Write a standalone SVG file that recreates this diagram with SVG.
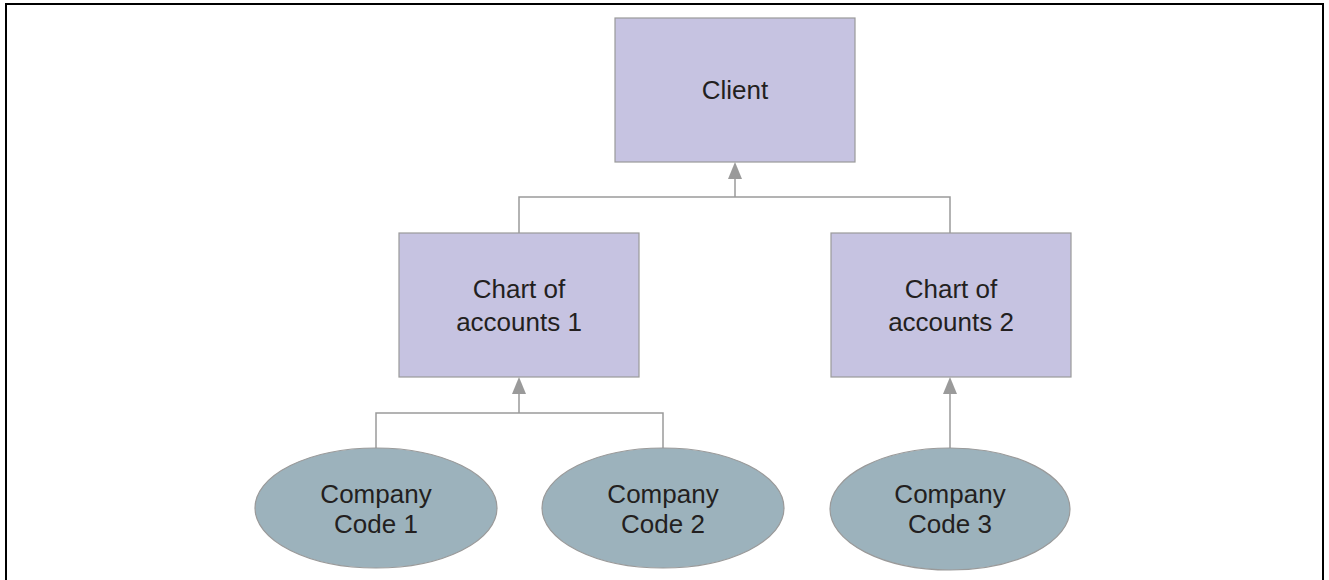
<svg xmlns="http://www.w3.org/2000/svg" width="1329" height="580" viewBox="0 0 1329 580">
<style>
.box{fill:#c6c3e1;stroke:#9a9a9a;stroke-width:1.2}
.oval{fill:#9cb2bc;stroke:#9a9a9a;stroke-width:1.2}
.lbl{font-family:"Liberation Sans",Arial,sans-serif;font-size:26px;fill:#231f20;text-anchor:middle}
.conn{fill:none;stroke:#9a9a9a;stroke-width:1.5}
.head{fill:#9a9a9a}
</style>
<rect width="1329" height="580" fill="#fff"/>
<path d="M6,580 V4 H1323 V580" fill="none" stroke="#000" stroke-width="2"/>
<g id="connectors">
<path class="conn" d="M519,233 V197 H950 V233"/>
<path class="conn" d="M735,197 V175"/>
<path class="conn" d="M376,448 V413 H663 V448"/>
<path class="conn" d="M519,413 V390"/>
<path class="conn" d="M950,448 V390"/>
<path class="head" d="M728,179 L735,162 L742,179 Z"/>
<path class="head" d="M512,394 L519,377 L526,394 Z"/>
<path class="head" d="M943,394 L950,377 L957,394 Z"/>
</g>
<g id="client">
<rect class="box" x="615" y="18" width="240" height="144"/>
<text class="lbl" x="735" y="99">Client</text>
</g>
<g id="coa1">
<rect class="box" x="399" y="233" width="240" height="144"/>
<text class="lbl" x="519" y="298">Chart of</text>
<text class="lbl" x="519" y="331">accounts 1</text>
</g>
<g id="coa2">
<rect class="box" x="831" y="233" width="240" height="144"/>
<text class="lbl" x="951" y="298">Chart of</text>
<text class="lbl" x="951" y="331">accounts 2</text>
</g>
<g id="cc1">
<ellipse class="oval" cx="376" cy="508" rx="121" ry="60"/>
<text class="lbl" x="376" y="503">Company</text>
<text class="lbl" x="376" y="533">Code 1</text>
</g>
<g id="cc2">
<ellipse class="oval" cx="663" cy="508" rx="121" ry="60"/>
<text class="lbl" x="663" y="503">Company</text>
<text class="lbl" x="663" y="533">Code 2</text>
</g>
<g id="cc3">
<ellipse class="oval" cx="950" cy="509" rx="120" ry="61"/>
<text class="lbl" x="950" y="503">Company</text>
<text class="lbl" x="950" y="533">Code 3</text>
</g>
</svg>
